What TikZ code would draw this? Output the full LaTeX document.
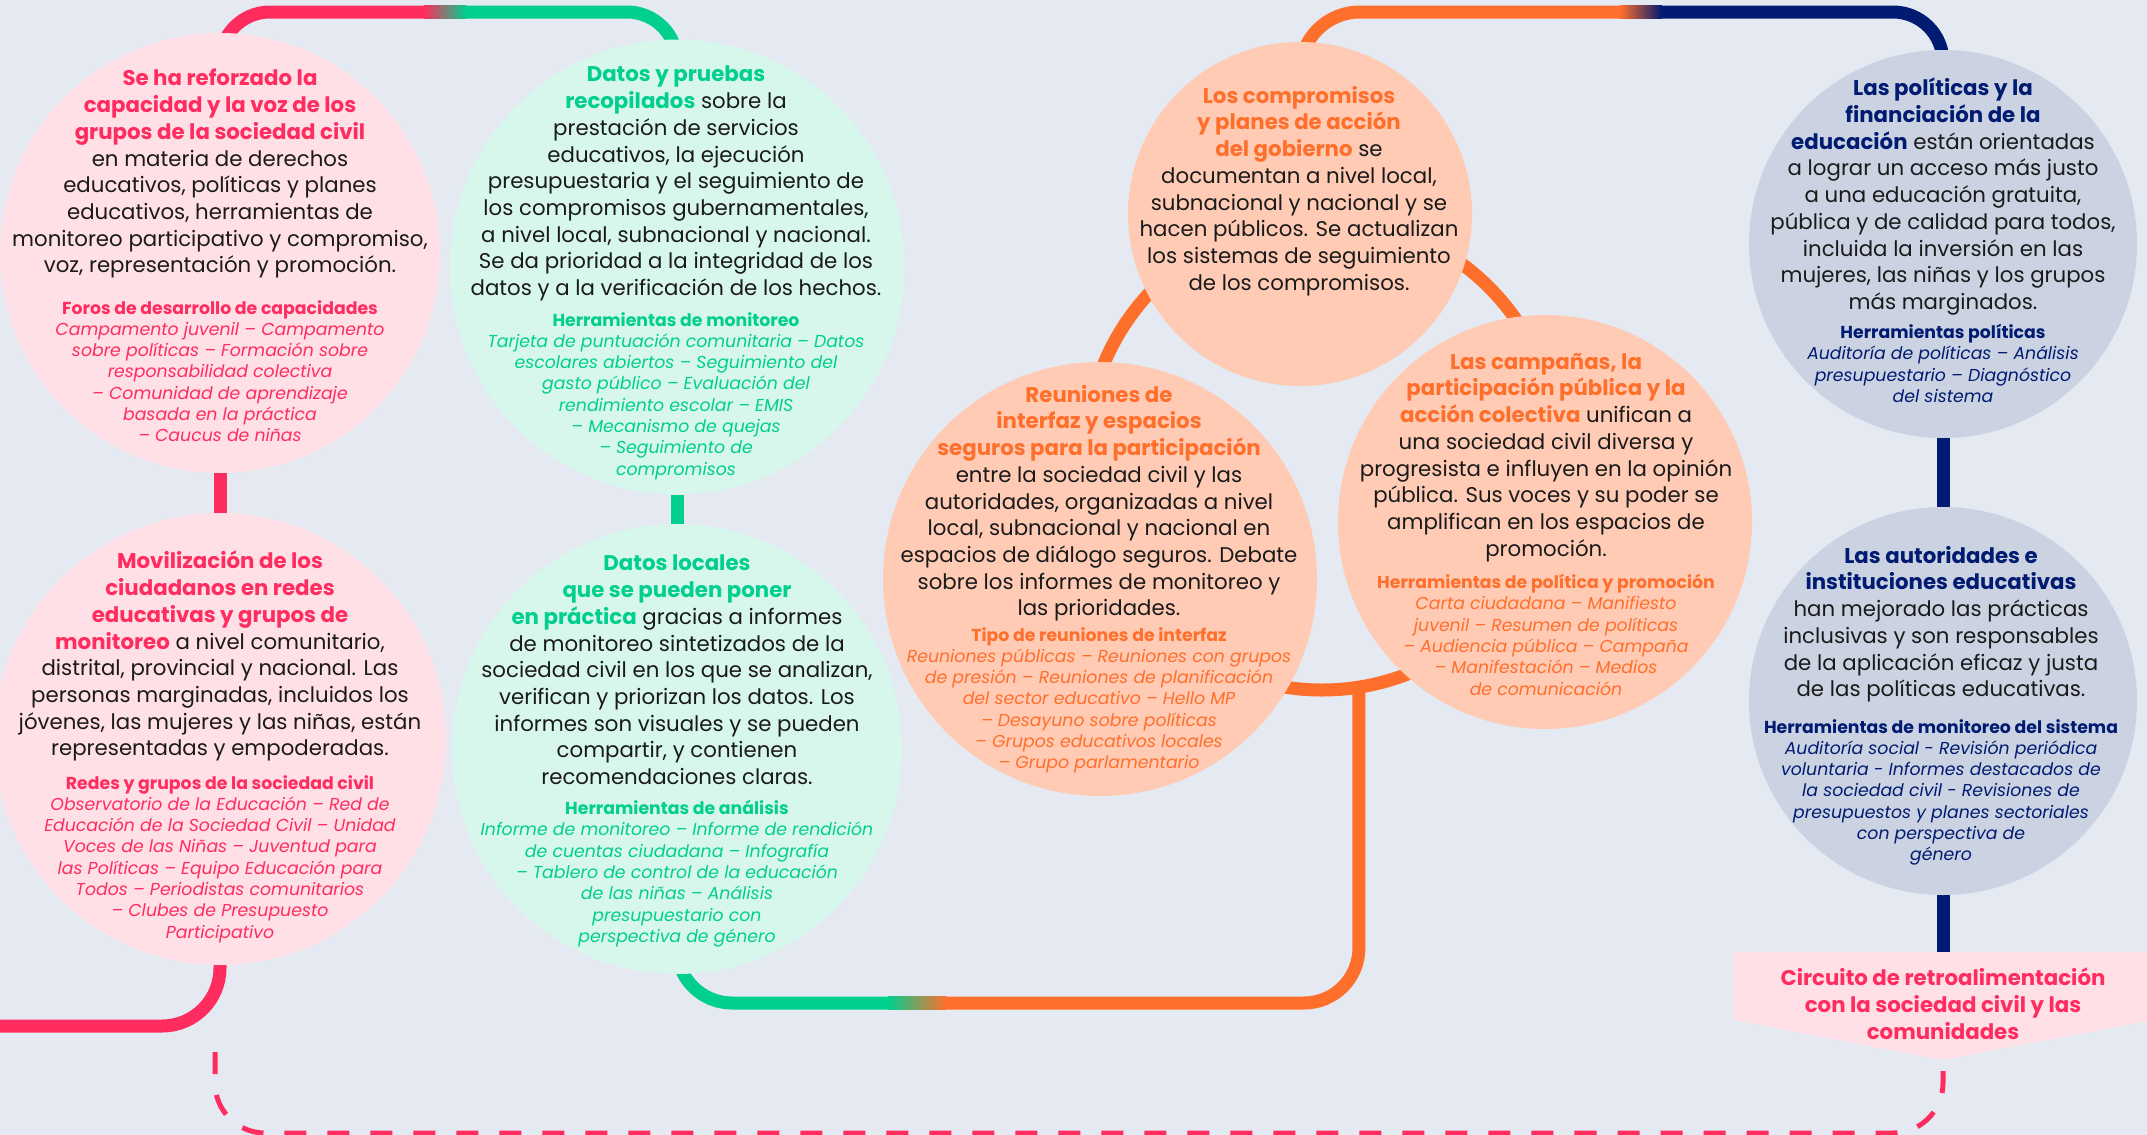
\documentclass[tikz,border=0pt]{standalone}
\usepackage{fontspec}
\setmainfont{Poppins}
\usetikzlibrary{backgrounds}
\definecolor{bg}{HTML}{E4E9F2}
\definecolor{pinkacc}{HTML}{FF2D5F}
\definecolor{pinkfill}{HTML}{FFE0E6}
\definecolor{greenacc}{HTML}{00CF8E}
\definecolor{greenfill}{HTML}{D8F7EC}
\definecolor{orangeacc}{HTML}{FF6F2C}
\definecolor{orangefill}{HTML}{FFCBB5}
\definecolor{navyacc}{HTML}{001B71}
\definecolor{navyfill}{HTML}{CBD3E3}
\definecolor{ink}{HTML}{1A1A1A}
\newcommand\pkh[1]{{\bfseries\color{pinkacc}#1}}
\newcommand\grh[1]{{\bfseries\color{greenacc}#1}}
\newcommand\orh[1]{{\bfseries\color{orangeacc}#1}}
\newcommand\nvh[1]{{\bfseries\color{navyacc}#1}}
\newcommand\toolhd[1]{{\upshape\bfseries#1}}

\begin{document}
\begin{tikzpicture}[x=1pt,y=-1pt,
    bubble/.style={circle,inner sep=0pt,outer sep=0pt,minimum size=#1},
    wire/.style={line width=13pt},
    maintxt/.style={anchor=north,inner sep=0pt,align=center,text=ink,font=\fontsize{21.3}{26.7}\selectfont},
    tooltxt/.style={anchor=north,inner sep=0pt,align=center,font=\fontsize{17.3}{21.3}\selectfont\itshape}]
  \useasboundingbox (0,0) rectangle (2147,1135);
  \foreach \n/\x/\y/\s/\c in {pinkA/220/253/440/pinkfill, pinkB/220/739/452/pinkfill,
      greenA/677/267/455/greenfill, greenB/677/749/450/greenfill,
      orangeR/1100/579/434/orangefill, orangeC/1300/214/344/orangefill, orangeP/1545/522/414/orangefill,
      navyA/1943/244/388/navyfill, navyB/1943/701/388/navyfill}
    \node[bubble=\s pt,fill=\c] (\n) at (\x,\y) {};
  \node[fill=pinkfill,minimum width=420pt,minimum height=68pt,inner sep=0pt,outer sep=0pt,anchor=north] (loopbox) at (1943,952) {};
  \coordinate (tip) at ([yshift=-40pt]loopbox.south);
  \fill[pinkfill] (loopbox.south west) -- (loopbox.south east) -- (tip) -- cycle;

  \coordinate (topL) at (0,12);
  \coordinate (pgA) at (424,12);
  \coordinate (pgB) at (466,12);
  \coordinate (onA) at (1620,12);
  \coordinate (onB) at (1662,12);
  \coordinate (goA) at (888,1003);
  \coordinate (goB) at (946,1003);
  \coordinate (pinkfoot) at (-10,1026);
  \coordinate (dashstart) at (215,1052);
  \coordinate (dashbase) at (0,1133);

  \begin{scope}[on background layer]
    \fill[bg] (0,0) rectangle (2147,1135);
    \node[bubble=472pt,draw=orangeacc,wire] (loop) at (1322,454) {};
    \coordinate (ringfoot) at (loop.-81.5);
    \draw[wire,pinkacc,rounded corners=50pt] (pinkA.center) -- (pinkA.center |- topL) -- (pgA);
    \shade[left color=pinkacc,right color=greenacc] ([yshift=6.5pt]pgA) rectangle ([yshift=-6.5pt]pgB);
    \draw[wire,greenacc,rounded corners=50pt] (pgB) -- (greenA.center |- topL) -- (greenA.center);
    \draw[wire,pinkacc] (pinkA) -- (pinkB);
    \draw[wire,pinkacc,rounded corners=58pt] (pinkB.center) -- (pinkB.center |- pinkfoot) -- (pinkfoot);
    \draw[wire,greenacc] (greenA) -- (greenB);
    \draw[wire,greenacc,rounded corners=55pt] (greenB.center) -- (greenB.center |- goA) -- (goA);
    \shade[left color=greenacc,right color=orangeacc] ([yshift=6.5pt]goA) rectangle ([yshift=-6.5pt]goB);
    \draw[wire,orangeacc,rounded corners=55pt] (goB) -- (ringfoot |- goB) -- (ringfoot);
    \draw[wire,orangeacc,rounded corners=60pt] (orangeC.center) -- (orangeC.center |- topL) -- (onA);
    \shade[left color=orangeacc,right color=navyacc] ([yshift=6.5pt]onA) rectangle ([yshift=-6.5pt]onB);
    \draw[wire,navyacc,rounded corners=50pt] (onB) -- (navyA.center |- topL) -- (navyA.center);
    \draw[wire,navyacc] (navyA) -- (navyB);
    \draw[wire,navyacc] (navyB.center) -- (loopbox.north);
    \draw[pinkacc,line width=5pt,dash pattern=on 22pt off 21pt,rounded corners=50pt] (dashstart) -- (dashstart |- dashbase) -- (tip |- dashbase) -- (tip);
  \end{scope}

  \node[maintxt] (pinkAtxt) at (220,69) {\pkh{Se ha reforzado la}\\ \pkh{capacidad y la voz de los}\\ \pkh{grupos de la sociedad civil}\\ en materia de derechos\\ educativos, políticas y planes\\ educativos, herramientas de\\ monitoreo participativo y compromiso,\\ voz, representación y promoción.};
  \node[tooltxt,text=pinkacc] (pinkAtools) at (220,300) {\toolhd{Foros de desarrollo de capacidades}\\ Campamento juvenil – Campamento\\ sobre políticas – Formación sobre\\ responsabilidad colectiva\\ – Comunidad de aprendizaje\\ basada en la práctica\\ – Caucus de niñas};

  \node[maintxt] (pinkBtxt) at (220,551) {\pkh{Movilización de los}\\ \pkh{ciudadanos en redes}\\ \pkh{educativas y grupos de}\\ \pkh{monitoreo} a nivel comunitario,\\ distrital, provincial y nacional. Las\\ personas marginadas, incluidos los\\ jóvenes, las mujeres y las niñas, están\\ representadas y empoderadas.};
  \node[tooltxt,text=pinkacc] (pinkBtools) at (220,775) {\toolhd{Redes y grupos de la sociedad civil}\\ Observatorio de la Educación – Red de\\ Educación de la Sociedad Civil – Unidad\\ Voces de las Niñas – Juventud para\\ las Políticas – Equipo Educación para\\ Todos – Periodistas comunitarios\\ – Clubes de Presupuesto\\ Participativo};

  \node[maintxt] (greenAtxt) at (676,66) {\grh{Datos y pruebas}\\ \grh{recopilados} sobre la\\ prestación de servicios\\ educativos, la ejecución\\ presupuestaria y el seguimiento de\\ los compromisos gubernamentales,\\ a nivel local, subnacional y nacional.\\ Se da prioridad a la integridad de los\\ datos y a la verificación de los hechos.};
  \node[tooltxt,text=greenacc] (greenAtools) at (676,312) {\toolhd{Herramientas de monitoreo}\\ Tarjeta de puntuación comunitaria – Datos\\ escolares abiertos – Seguimiento del\\ gasto público – Evaluación del\\ rendimiento escolar – EMIS\\ – Mecanismo de quejas\\ – Seguimiento de\\ compromisos};

  \node[maintxt] (greenBtxt) at (677,555) {\grh{Datos locales}\\ \grh{que se pueden poner}\\ \grh{en práctica} gracias a informes\\ de monitoreo sintetizados de la\\ sociedad civil en los que se analizan,\\ verifican y priorizan los datos. Los\\ informes son visuales y se pueden\\ compartir, y contienen\\ recomendaciones claras.};
  \node[tooltxt,text=greenacc] (greenBtools) at (677,800) {\toolhd{Herramientas de análisis}\\ Informe de monitoreo – Informe de rendición\\ de cuentas ciudadana – Infografía\\ – Tablero de control de la educación\\ de las niñas – Análisis\\ presupuestario con\\ perspectiva de género};

  \node[maintxt] (orangeRtxt) at (1099,385) {\orh{Reuniones de}\\ \orh{interfaz y espacios}\\ \orh{seguros para la participación}\\ entre la sociedad civil y las\\ autoridades, organizadas a nivel\\ local, subnacional y nacional en\\ espacios de diálogo seguros. Debate\\ sobre los informes de monitoreo y\\ las prioridades.};
  \node[tooltxt,text=orangeacc] (orangeRtools) at (1099,627) {\toolhd{Tipo de reuniones de interfaz}\\ Reuniones públicas – Reuniones con grupos\\ de presión – Reuniones de planificación\\ del sector educativo – Hello MP\\ – Desayuno sobre políticas\\ – Grupos educativos locales\\ – Grupo parlamentario};

  \node[maintxt] (orangeCtxt) at (1299,86) {\orh{Los compromisos}\\ \orh{y planes de acción}\\ \orh{del gobierno} se\\ documentan a nivel local,\\ subnacional y nacional y se\\ hacen públicos. Se actualizan\\ los sistemas de seguimiento\\ de los compromisos.};

  \node[maintxt] (orangePtxt) at (1546,353) {\orh{Las campañas, la}\\ \orh{participación pública y la}\\ \orh{acción colectiva} unifican a\\ una sociedad civil diversa y\\ progresista e influyen en la opinión\\ pública. Sus voces y su poder se\\ amplifican en los espacios de\\ promoción.};
  \node[tooltxt,text=orangeacc] (orangePtools) at (1546,574) {\toolhd{Herramientas de política y promoción}\\ Carta ciudadana – Manifiesto\\ juvenil – Resumen de políticas\\ – Audiencia pública – Campaña\\ – Manifestación – Medios\\ de comunicación};

  \node[maintxt] (navyAtxt) at (1943,78) {\nvh{Las políticas y la}\\ \nvh{financiación de la}\\ \nvh{educación} están orientadas\\ a lograr un acceso más justo\\ a una educación gratuita,\\ pública y de calidad para todos,\\ incluida la inversión en las\\ mujeres, las niñas y los grupos\\ más marginados.};
  \node[tooltxt,text=navyacc] (navyAtools) at (1943,324) {\toolhd{Herramientas políticas}\\ Auditoría de políticas – Análisis\\ presupuestario – Diagnóstico\\ del sistema};

  \node[maintxt] (navyBtxt) at (1941,546) {\nvh{Las autoridades e}\\ \nvh{instituciones educativas}\\ han mejorado las prácticas\\ inclusivas y son responsables\\ de la aplicación eficaz y justa\\ de las políticas educativas.};
  \node[tooltxt,text=navyacc] (navyBtools) at (1941,719) {\toolhd{Herramientas de monitoreo del sistema}\\ Auditoría social - Revisión periódica\\ voluntaria - Informes destacados de\\ la sociedad civil - Revisiones de\\ presupuestos y planes sectoriales\\ con perspectiva de\\ género};

  \node[maintxt,text=pinkacc,font=\fontsize{21.3}{26.7}\selectfont\bfseries] (loopboxtxt) at (1943,968) {Circuito de retroalimentación\\ con la sociedad civil y las\\ comunidades};
\end{tikzpicture}
\end{document}
